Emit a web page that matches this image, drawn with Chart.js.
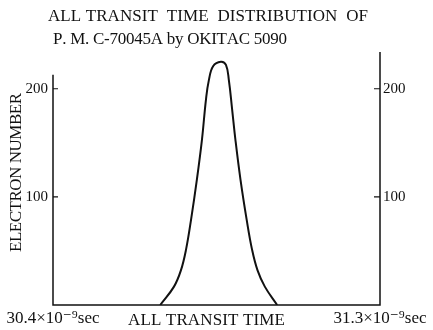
<!DOCTYPE html>
<html><head><meta charset="utf-8">
<script src="https://cdn.jsdelivr.net/npm/chart.js@4/dist/chart.umd.min.js"></script>
<style>html,body{margin:0;padding:0;background:#fff}#wrap{width:433px;height:330px}</style>
</head><body><div id="wrap"><canvas id="c" width="433" height="330"></canvas></div>
<script>
// ---- data ----
const titleLines = ['ALL TRANSIT  TIME  DISTRIBUTION  OF', 'P. M. C-70045A by OKITAC 5090'];
const yAxisTitle = 'ELECTRON NUMBER';
const xAxisTitle = 'ALL TRANSIT TIME';
const transitTimes = [30.695, 30.733, 30.752, 30.766, 30.780, 30.796, 30.810, 30.821, 30.829, 30.841, 30.862, 30.876, 30.884, 30.893, 30.902, 30.916, 30.933, 30.948, 30.963, 30.983, 31.017];
const electronCounts = [0, 17, 32, 51, 79, 116, 153, 190, 208, 221, 225, 222, 208, 181, 153, 116, 79, 51, 32, 17, 0];
const xTickValues = [30.4, 31.3];
const yTickValues = [100, 200];
const xRange = [30.4, 31.3];
const yRange = [0, 234];
const leftAxisTopValue = 213;

const SERIF = '"Liberation Serif", "DejaVu Serif", serif';

function drawSpaced(ctx, text, x, y, width) {
  const chars = Array.from(text);
  let sum = 0;
  const ws = chars.map(c => { const w = ctx.measureText(c).width; sum += w; return w; });
  const extra = chars.length > 1 ? (width - sum) / (chars.length - 1) : 0;
  let cx = x;
  chars.forEach((c, i) => { ctx.fillText(c, cx, y); cx += ws[i] + extra; });
}

const axesPlugin = {
  id: 'axesPlugin',
  afterDraw(chart) {
    const ctx = chart.ctx;
    const yl = chart.scales.y, yr = chart.scales.y2;
    const a = chart.chartArea;
    ctx.save();
    ctx.strokeStyle = '#111';
    ctx.lineWidth = 1.5;
    ctx.beginPath();
    ctx.moveTo(a.left, yl.getPixelForValue(leftAxisTopValue));
    ctx.lineTo(a.left, a.bottom);
    ctx.lineTo(a.right, a.bottom);
    ctx.lineTo(a.right, a.top);
    ctx.stroke();
    ctx.lineWidth = 1.2;
    ctx.beginPath();
    yTickValues.forEach(v => {
      const py = yl.getPixelForValue(v);
      ctx.moveTo(a.left, py); ctx.lineTo(a.left + 5, py);
      const pr = yr.getPixelForValue(v);
      ctx.moveTo(a.right - 6, pr); ctx.lineTo(a.right, pr);
    });
    ctx.stroke();

    ctx.fillStyle = '#111';
    ctx.font = '17px ' + SERIF;
    ctx.textBaseline = 'alphabetic';
    ctx.textAlign = 'left';
    drawSpaced(ctx, titleLines[0], 48, 21, 332 - 12);
    drawSpaced(ctx, titleLines[1], 53, 44, 244 - 10);
    ctx.font = '17px ' + SERIF;
    drawSpaced(ctx, xAxisTitle, 128, 325, 169 - 12);
    ctx.save();
    ctx.translate(21, 252);
    ctx.rotate(-Math.PI / 2);
    ctx.font = '17px ' + SERIF;
    drawSpaced(ctx, yAxisTitle, 0, 0, 170 - 11);
    ctx.restore();
    ctx.restore();
  }
};

const yTicksCommon = {
  color: '#111',
  font: { family: SERIF, size: 15 },
  autoSkip: false
};

new Chart(document.getElementById('c'), {
  type: 'line',
  data: {
    datasets: [{
      data: transitTimes.map((t, i) => ({ x: t, y: electronCounts[i] })),
      borderColor: '#111',
      borderWidth: 2,
      pointRadius: 0,
      fill: false,
      tension: 0.4
    }]
  },
  options: {
    responsive: false,
    animation: false,
    devicePixelRatio: 1,
    layout: { padding: { top: 52, left: 0, right: 0, bottom: 0 } },
    plugins: { legend: { display: false }, title: { display: false }, tooltip: { enabled: false } },
    scales: {
      x: {
        type: 'linear', min: xRange[0], max: xRange[1],
        afterBuildTicks: s => { s.ticks = xTickValues.map(v => ({ value: v })); },
        afterFit: s => { s.height = 25; },
        grid: { display: false, drawTicks: false },
        border: { display: false },
        ticks: {
          color: '#111', font: { family: SERIF, size: 17 }, padding: 3, maxRotation: 0,
          callback: v => v.toFixed(1) + '×10⁻⁹sec'
        }
      },
      y: {
        position: 'left', min: yRange[0], max: yRange[1],
        afterBuildTicks: s => { s.ticks = yTickValues.map(v => ({ value: v })); },
        afterFit: s => { s.width = 53; },
        grid: { display: false, drawTicks: false },
        border: { display: false },
        ticks: Object.assign({ padding: 5 }, yTicksCommon)
      },
      y2: {
        position: 'right', min: yRange[0], max: yRange[1],
        afterBuildTicks: s => { s.ticks = yTickValues.map(v => ({ value: v })); },
        afterFit: s => { s.width = 53; },
        grid: { display: false, drawTicks: false },
        border: { display: false },
        ticks: Object.assign({ padding: 3 }, yTicksCommon)
      }
    }
  },
  plugins: [axesPlugin]
});
</script></body></html>
